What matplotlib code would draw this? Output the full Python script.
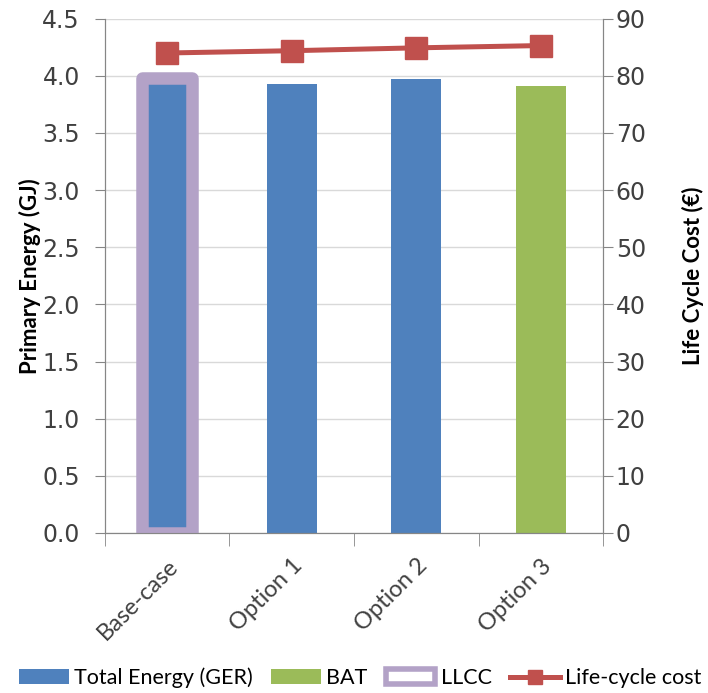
import numpy as np
import matplotlib.pyplot as plt
from matplotlib.patches import Patch
from matplotlib.lines import Line2D

categories = ["Base-case", "Option 1", "Option 2", "Option 3"]
energy = [3.93, 3.93, 3.97, 3.91]
life_cycle_cost = [84.0, 84.4, 84.9, 85.3]
llcc_energy = 3.98
bat_index = 3
llcc_index = 0

blue = "#4F81BD"
green = "#9BBB59"
purple = "#B3A2C7"
red = "#C0504D"
axis_grey = "#868686"
text_grey = "#404040"

fig = plt.figure(figsize=(7.08, 6.93), dpi=100)
ax = fig.add_axes([0.148, 0.231, 0.704, 0.742])

x = np.arange(len(categories))
colors = [green if i == bat_index else blue for i in range(len(categories))]
ax.bar(x, energy, width=0.4, color=colors, zorder=2)

# LLCC highlight around the lowest-cost option
ax.bar(x[llcc_index], llcc_energy, width=0.4,
       facecolor="none", edgecolor=purple, linewidth=9, joinstyle="round", zorder=3)

ax.set_xlim(-0.5, len(categories) - 0.5)
ax.set_ylim(0, 4.5)
yt = np.arange(0, 4.51, 0.5)
ax.set_yticks(yt)
ax.set_yticklabels([f"{v:.1f}" for v in yt], fontsize=17, color=text_grey)
ax.yaxis.grid(True, color="#D9D9D9", linewidth=1, zorder=0)
ax.set_axisbelow(True)
ax.set_ylabel("Primary Energy (GJ)", fontsize=16, fontweight="bold", family="Lato", labelpad=1)

# category labels, with tick marks at the category boundaries
ax.set_xticks(x)
ax.set_xticklabels(categories, rotation=45, ha="right", rotation_mode="anchor",
                   fontsize=17, family="Lato", color=text_grey)
ax.tick_params(axis="x", which="major", length=0, pad=16)
ax.set_xticks(np.arange(-0.5, len(categories)), minor=True)
ax.tick_params(axis="x", which="minor", length=9, color=axis_grey)
ax.tick_params(axis="y", length=7, color=axis_grey, pad=11)
ax.spines["top"].set_visible(False)
for side in ["left", "bottom", "right"]:
    ax.spines[side].set_color(axis_grey)

ax2 = ax.twinx()
ax2.plot(x, life_cycle_cost, color=red, linewidth=3.6, marker="s", markersize=15.5, zorder=4)
ax2.set_ylim(0, 90)
ax2.set_yticks(np.arange(0, 91, 10))
ax2.set_yticklabels([str(v) for v in range(0, 91, 10)], fontsize=17, color=text_grey)
ax2.set_ylabel("Life Cycle Cost (€)", fontsize=16, fontweight="bold", family="Lato", labelpad=26)
ax2.tick_params(axis="y", length=7, color=axis_grey, pad=2)
ax2.spines["top"].set_visible(False)
for side in ["left", "bottom", "right"]:
    ax2.spines[side].set_color(axis_grey)

handles = [
    Patch(facecolor=blue, label="Total Energy (GER)"),
    Patch(facecolor=green, label="BAT"),
    Patch(facecolor="white", edgecolor=purple, linewidth=4, label="LLCC"),
    Line2D([0], [0], color=red, linewidth=3.6, marker="s", markersize=10, label="Life-cycle cost"),
]
fig.legend(handles=handles, loc="center left", bbox_to_anchor=(0.027, 0.022), ncol=4, frameon=False,
           prop={"family": "Lato", "size": 15.5}, handlelength=2.3, handleheight=0.65,
           handletextpad=0.26, columnspacing=0.85, borderaxespad=0, borderpad=0)

fig.savefig("out.png", dpi=100)
